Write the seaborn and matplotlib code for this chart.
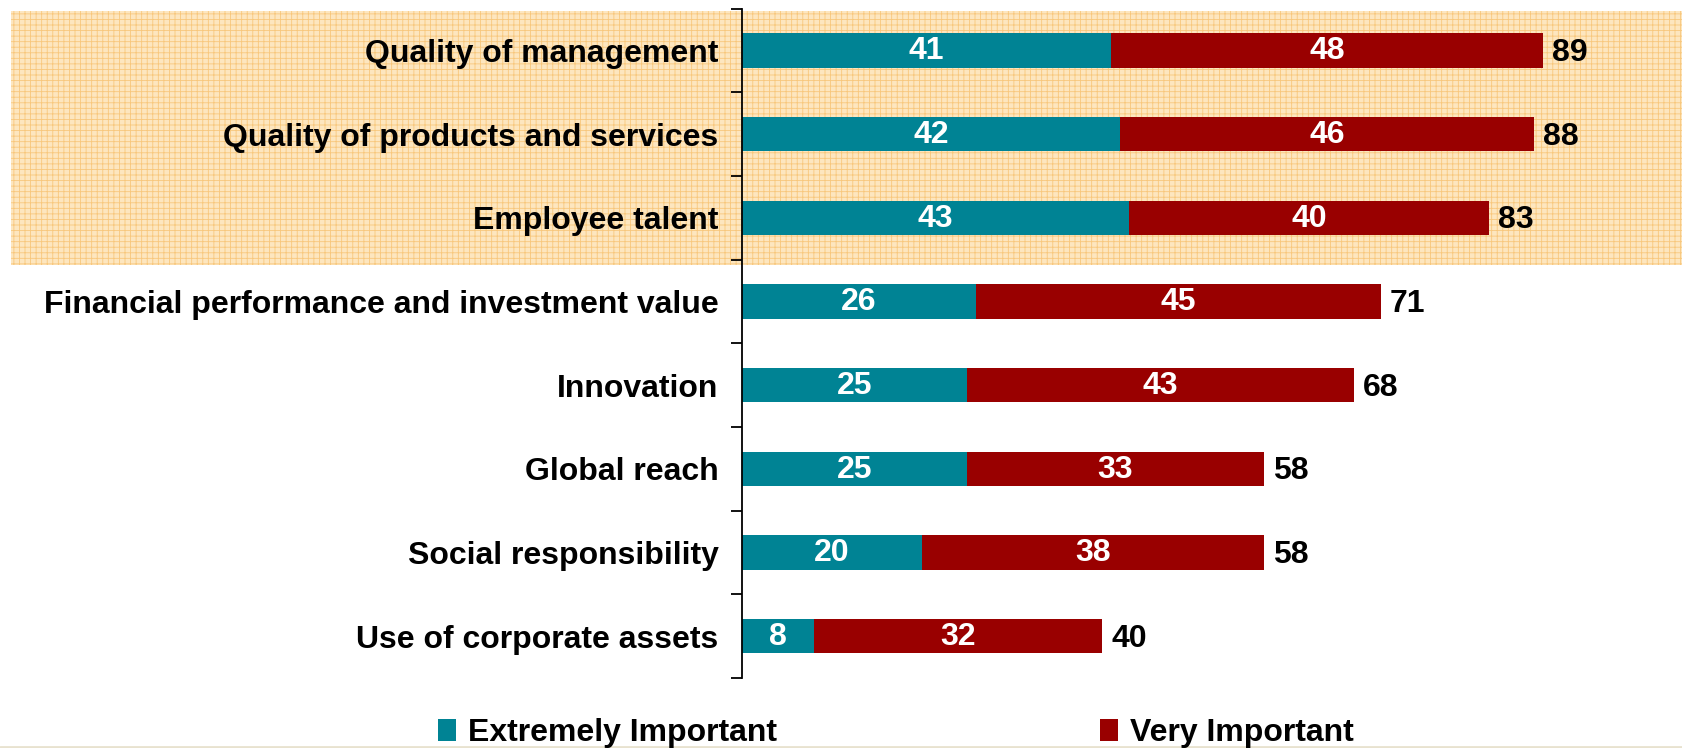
import matplotlib
matplotlib.use("Agg")
import matplotlib.pyplot as plt
from matplotlib.patches import Rectangle, Patch
import seaborn as sns
import pandas as pd

categories = [
    "Quality of management",
    "Quality of products and services",
    "Employee talent",
    "Financial performance and investment value",
    "Innovation",
    "Global reach",
    "Social responsibility",
    "Use of corporate assets",
]
extremely_important = [41, 42, 43, 26, 25, 25, 20, 8]
very_important = [48, 46, 40, 45, 43, 33, 38, 32]
series_names = ["Extremely Important", "Very Important"]

TEAL = "#008394"
RED = "#990000"
FS = 23

sns.set_theme(style="white")
plt.rcParams["font.family"] = ["Liberation Sans", "DejaVu Sans"]
plt.rcParams["font.weight"] = "bold"
plt.rcParams["hatch.linewidth"] = 0.6
plt.rcParams["text.color"] = "black"
plt.rcParams["ytick.color"] = "black"
plt.rcParams["ytick.labelcolor"] = "black"

df = pd.DataFrame({
    "category": categories,
    "extreme": extremely_important,
    "very": very_important,
})
df["total"] = df["extreme"] + df["very"]

W, H = 1682, 748
fig = plt.figure(figsize=(W / 100, H / 100), dpi=100)
fig.patch.set_facecolor("white")

# highlighted band behind the top three drivers
band = Rectangle((11 / W, 1 - 265 / H), 1 - 11 / W, (265 - 11) / H,
                 transform=fig.transFigure, facecolor="#FDE6BF",
                 edgecolor="#F8C77C", hatch="+++", linewidth=0, zorder=-5)
fig.add_artist(band)

ax_left, ax_right = 742 / W, 1.0
ax_top, ax_bottom = 1 - 8.6 / H, 1 - 678 / H
ax = fig.add_axes([ax_left, ax_bottom, ax_right - ax_left, ax_top - ax_bottom])
ax.patch.set_alpha(0)

# stacked bars: full total in red, extremely-important share in teal on top
sns.barplot(data=df, y="category", x="total", color=RED, width=0.41,
            saturation=1, ax=ax, orient="h", linewidth=0)
sns.barplot(data=df, y="category", x="extreme", color=TEAL, width=0.41,
            saturation=1, ax=ax, orient="h", linewidth=0)

ax.set_xlim(0, (W - 742) / 9.0)
ax.set_ylim(len(categories) - 0.5, -0.5)
ax.set_xlabel("")
ax.set_ylabel("")
ax.set_xticks([])

ax.set_yticks([i - 0.5 for i in range(len(categories) + 1)], minor=False)
ax.set_yticklabels([])
ax.set_yticks(range(len(categories)), minor=True)
ax.set_yticklabels(categories, minor=True, fontsize=FS, fontweight="bold",
                   color="black")
ax.tick_params(axis="y", which="major", direction="out", length=8,
               width=1.3, color="black", left=True)
ax.tick_params(axis="y", which="minor", length=0, pad=17)

for side in ["top", "right", "bottom"]:
    ax.spines[side].set_visible(False)
ax.spines["left"].set_color("black")
ax.spines["left"].set_linewidth(1.3)

for i, (e, v, t) in enumerate(zip(df["extreme"], df["very"], df["total"])):
    ax.text(e / 2, i + 0.01, f"{e}", ha="center", va="center", color="white",
            fontsize=FS, fontweight="bold")
    ax.text(e + v / 2, i + 0.01, f"{v}", ha="center", va="center",
            color="white", fontsize=FS, fontweight="bold")
    ax.text(t + 1.0, i + 0.03, f"{t}", ha="left", va="center", color="black",
            fontsize=FS, fontweight="bold")

handles = [Patch(facecolor=TEAL, edgecolor="none"),
           Patch(facecolor=RED, edgecolor="none")]
fig.legend(handles, series_names, loc="center", ncol=2,
           bbox_to_anchor=(896 / W, 1 - 733 / H), frameon=False,
           prop={"size": FS, "weight": "bold"}, handlelength=0.55,
           handleheight=0.7, handletextpad=0.4, columnspacing=10.1,
           borderaxespad=0, borderpad=0)

# thin rule along the bottom edge
fig.add_artist(plt.Line2D([0, 1], [1.5 / H, 1.5 / H], transform=fig.transFigure,
                          color="#E8E2CF", linewidth=2))

fig.savefig("out.png", dpi=100)
